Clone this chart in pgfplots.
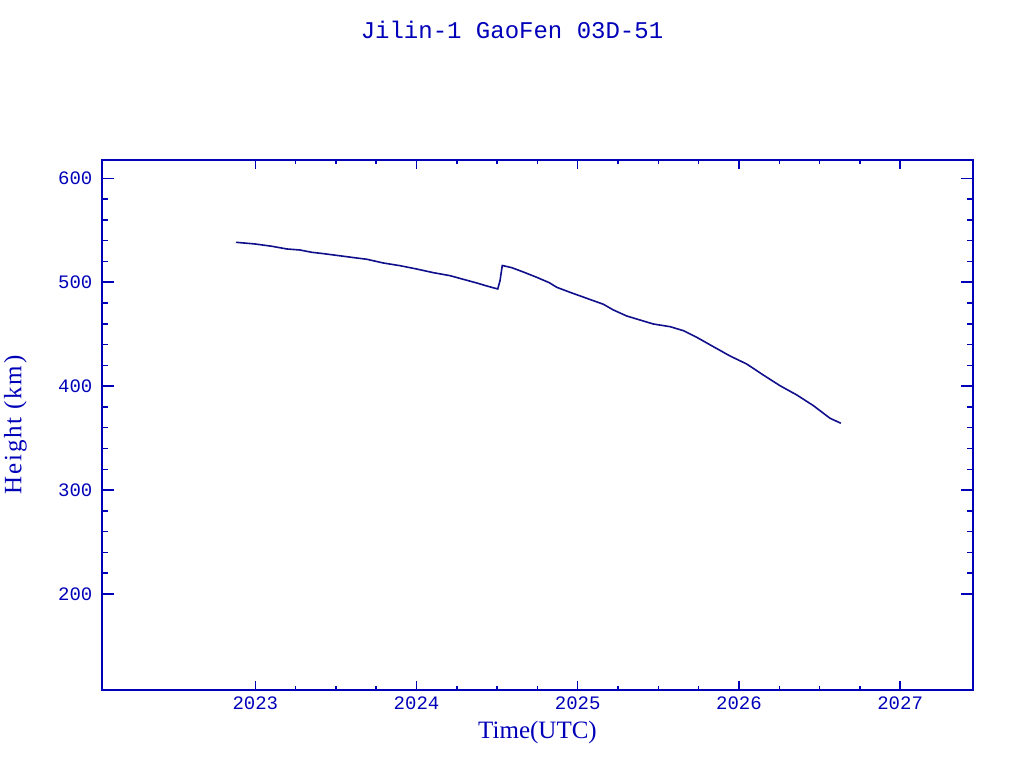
\documentclass[border=0pt]{standalone}
\usepackage{fontspec}
\setmainfont{Liberation Serif}
\newfontfamily\monof{Liberation Mono}
\usepackage{pgfplots}
\pgfplotsset{compat=1.18}
\definecolor{axblue}{RGB}{0,0,185}
\definecolor{lineblue}{RGB}{15,15,140}
\begin{document}
\begin{tikzpicture}[x=0.75pt,y=0.75pt]
\path[use as bounding box] (0,0) rectangle (1024,768);
\begin{axis}[
  at={(76.5pt,58.5pt)}, anchor=south west,
  scale only axis, width=653.25pt, height=397.5pt,
  xmin=2022.049, xmax=2027.452, ymin=107.6, ymax=617.6,
  xtick={2023,2024,2025,2026,2027},
  ytick={200,300,400,500,600},
  minor x tick num=3, minor y tick num=4,
  axis line style={axblue, line width=1.1pt},
  every tick/.style={axblue, line width=1.1pt},
  major tick length=9pt, minor tick length=4.5pt,
  x tick style={/pgfplots/major tick length=6.5pt,/pgfplots/minor tick length=3pt},
  /pgf/number format/assume math mode=true,
  /pgf/number format/1000 sep={},
  xticklabel style={font=\monof\fontsize{14.25}{16}\selectfont, text=axblue, anchor=center, inner sep=0pt, yshift=-10.3pt},
  yticklabel style={font=\monof\fontsize{14.25}{16}\selectfont, text=axblue, anchor=east, inner sep=0pt, xshift=-7pt},
]
\addplot[lineblue, line width=1.2pt] coordinates {
(2022.880,538.4) (2022.998,536.8) (2023.102,534.6) (2023.195,532.0)
(2023.277,531.0) (2023.350,528.8) (2023.422,527.5) (2023.536,525.2)
(2023.629,523.3) (2023.691,522.1) (2023.794,518.5) (2023.898,515.9)
(2024.001,512.7) (2024.104,509.2) (2024.208,506.3) (2024.290,502.8)
(2024.373,499.3) (2024.435,496.4) (2024.504,493.5) (2024.518,501.5)
(2024.532,516.1) (2024.591,514.0) (2024.663,509.8) (2024.746,504.7)
(2024.824,499.5) (2024.870,495.1) (2024.952,490.3) (2025.056,484.5)
(2025.159,478.8) (2025.221,473.3) (2025.304,467.5) (2025.387,463.6)
(2025.469,459.8) (2025.573,457.2) (2025.655,453.4) (2025.738,447.0)
(2025.841,438.0) (2025.945,429.0) (2026.048,421.3) (2026.151,410.7)
(2026.255,400.4) (2026.359,391.5) (2026.462,381.2) (2026.565,369.1)
(2026.632,364.3)
};
\end{axis}
\node[text=axblue, font=\monof\fontsize{18}{20}\selectfont, inner sep=0pt] at (512,738) {Jilin-1 GaoFen 03D-51};
\node[text=axblue, font=\fontsize{18.75}{20}\selectfont, inner sep=0pt] at (537.5,36) {Time(UTC)};
\node[text=axblue, font=\fontsize{18.75}{20}\selectfont\addfontfeature{LetterSpace=7}, inner sep=0pt, rotate=90] at (15.5,343) {Height (km)};
\end{tikzpicture}
\end{document}
